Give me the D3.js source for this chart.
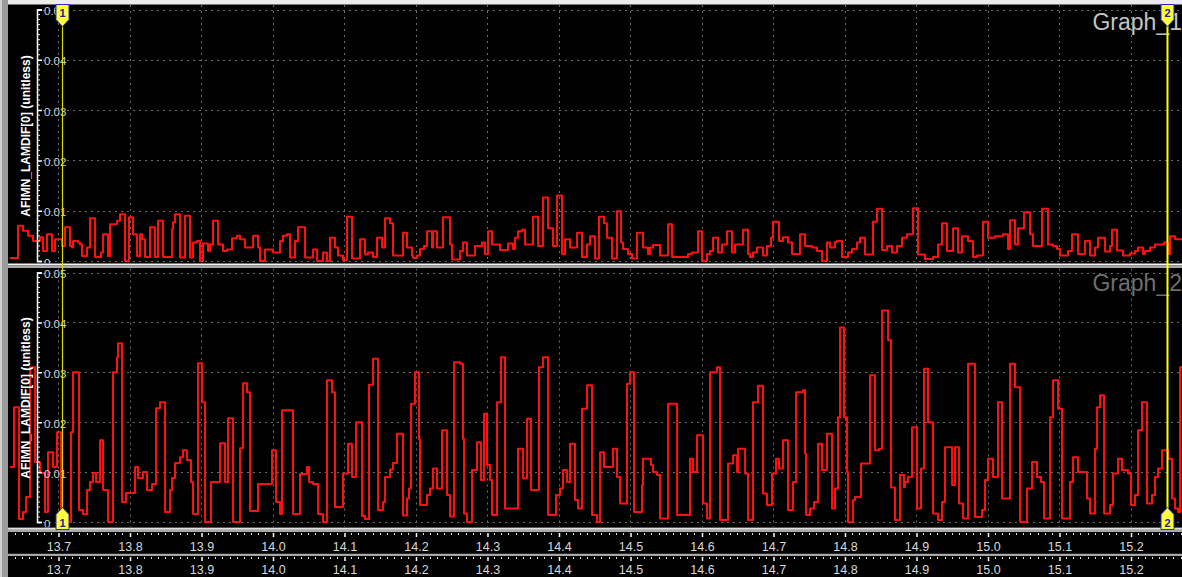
<!DOCTYPE html>
<html>
<head>
<meta charset="utf-8">
<script src="https://cdn.jsdelivr.net/npm/d3@7/dist/d3.min.js"></script>
<style>
  html, body { margin: 0; padding: 0; background: #000; overflow: hidden; }
  svg { display: block; }
  text { font-family: "Liberation Sans", Arial, sans-serif; }
</style>
</head>
<body>
<svg id="chart" width="1182" height="577"></svg>
<script>
// ---- data -------------------------------------------------------------
const timeTicks = [13.7, 13.8, 13.9, 14.0, 14.1, 14.2, 14.3, 14.4, 14.5, 14.6, 14.7, 14.8, 14.9, 15.0, 15.1, 15.2];
const yTicks = [0, 0.01, 0.02, 0.03, 0.04, 0.05];
const timeRange = [13.6329, 15.2721];
const cursorTimes = [13.7055, 15.2505];
const cursorLabels = ["1", "2"];
const graphNames = ["Graph_1", "Graph_2"];
const channelName = "AFIMN_LAMDIF[0] (unitless)";

// step samples: each value holds from its time until the next time
const series1Time = [13.6329,13.6441,13.6511,13.6581,13.6651,13.6748,13.6790,13.6846,13.6916,13.6958,13.7056,13.7098,13.7168,13.7196,13.7210,13.7280,13.7308,13.7336,13.7406,13.7448,13.7518,13.7602,13.7630,13.7699,13.7727,13.7825,13.7867,13.7937,13.7993,13.8049,13.8105,13.8147,13.8175,13.8217,13.8287,13.8357,13.8399,13.8469,13.8595,13.8609,13.8637,13.8706,13.8776,13.8846,13.8888,13.8944,13.8986,13.9028,13.9098,13.9126,13.9168,13.9238,13.9308,13.9364,13.9434,13.9504,13.9546,13.9616,13.9728,13.9797,13.9825,13.9895,14.0007,14.0105,14.0147,14.0203,14.0245,14.0315,14.0357,14.0455,14.0567,14.0623,14.0706,14.0762,14.0804,14.0874,14.0916,14.0986,14.1042,14.1112,14.1224,14.1294,14.1336,14.1406,14.1462,14.1532,14.1574,14.1644,14.1685,14.1825,14.1881,14.1951,14.1965,14.2021,14.2063,14.2119,14.2161,14.2231,14.2245,14.2301,14.2385,14.2483,14.2511,14.2623,14.2664,14.2720,14.2832,14.2930,14.2972,14.3014,14.3070,14.3182,14.3294,14.3364,14.3392,14.3434,14.3490,14.3532,14.3643,14.3713,14.3783,14.3853,14.3923,14.3979,14.4049,14.4091,14.4161,14.4259,14.4329,14.4399,14.4441,14.4511,14.4567,14.4637,14.4678,14.4748,14.4818,14.4874,14.4902,14.4972,14.5028,14.5098,14.5182,14.5252,14.5280,14.5322,14.5420,14.5532,14.5588,14.5811,14.5867,14.5951,14.6007,14.6077,14.6119,14.6161,14.6231,14.6287,14.6357,14.6427,14.6469,14.6581,14.6651,14.6679,14.6720,14.6776,14.6860,14.6916,14.6972,14.7000,14.7084,14.7140,14.7210,14.7266,14.7378,14.7448,14.7546,14.7616,14.7686,14.7755,14.7797,14.7867,14.7895,14.7965,14.8049,14.8105,14.8175,14.8217,14.8287,14.8399,14.8455,14.8525,14.8595,14.8664,14.8734,14.8804,14.8874,14.8958,14.9028,14.9126,14.9238,14.9308,14.9364,14.9434,14.9518,14.9588,14.9643,14.9727,14.9797,14.9853,14.9937,15.0007,15.0105,15.0217,15.0287,15.0315,15.0385,15.0427,15.0511,15.0594,15.0636,15.0762,15.0846,15.0916,15.0972,15.1014,15.1126,15.1182,15.1266,15.1364,15.1434,15.1504,15.1546,15.1643,15.1713,15.1741,15.1811,15.1895,15.1993,15.2063,15.2105,15.2175,15.2203,15.2273,15.2343,15.2469,15.2525,15.2553,15.2623];
const series1Value = [0.0006,0.007,0.006,0.005,0.004,0.0047,0.002,0.0053,0.002,0.0043,0.003,0.0067,0.003,0.0027,0.004,0.0037,0.0033,0.001,0.0027,0.0085,0.0008,0.0017,0.0053,0.001,0.0073,0.008,0.0093,0.0,0.0087,0.0053,0.001,0.0053,0.0043,0.0008,0.0067,0.0008,0.008,0.0008,0.0063,0.0077,0.0093,0.0007,0.009,0.0007,0.0037,0.004,0.0,0.0035,0.002,0.0033,0.008,0.0033,0.002,0.0023,0.0045,0.005,0.0043,0.0027,0.005,0.0027,0.0,0.0023,0.0017,0.004,0.005,0.0053,0.0007,0.004,0.0067,0.0007,0.0023,0.0,0.0017,0.0,0.0046,0.0027,0.0011,0.0002,0.0088,0.0005,0.0043,0.0013,0.0017,0.0008,0.0046,0.0027,0.0085,0.0075,0.0011,0.0056,0.0027,0.0011,0.0006,0.0011,0.0024,0.003,0.0059,0.0027,0.0059,0.0027,0.0087,0.0033,0.0003,0.002,0.0037,0.0011,0.003,0.0037,0.0014,0.0059,0.0033,0.0022,0.0035,0.0024,0.0046,0.0059,0.0062,0.0033,0.0088,0.003,0.0126,0.0065,0.003,0.013,0.0014,0.0043,0.0027,0.0056,0.0008,0.0033,0.0049,0.0005,0.0088,0.0075,0.0046,0.0005,0.0099,0.0037,0.0024,0.0014,0.0005,0.0056,0.0027,0.0014,0.0027,0.0032,0.0011,0.0073,0.0008,0.0014,0.0017,0.0059,0.0,0.0014,0.002,0.0046,0.0017,0.0033,0.0059,0.0017,0.0033,0.0062,0.0014,0.0008,0.0017,0.0027,0.0011,0.003,0.0046,0.0078,0.004,0.0047,0.0037,0.0014,0.0053,0.003,0.0027,0.002,0.0,0.0037,0.0027,0.0038,0.004,0.0008,0.0017,0.0024,0.0037,0.0046,0.0013,0.0078,0.0104,0.0022,0.003,0.0017,0.003,0.0046,0.0053,0.0105,0.0013,0.0004,0.0008,0.0033,0.0075,0.002,0.0065,0.0017,0.0049,0.004,0.0008,0.0011,0.0078,0.0046,0.0049,0.0053,0.0024,0.0081,0.0033,0.0065,0.0097,0.0053,0.003,0.0104,0.0033,0.003,0.0024,0.0011,0.002,0.0053,0.0014,0.004,0.0011,0.0027,0.0046,0.0019,0.003,0.0062,0.0021,0.0011,0.0015,0.002,0.0027,0.0014,0.002,0.0027,0.0033,0.0037,0.0014,0.0049,0.0043];

const series2Time = [13.6329,13.6385,13.6455,13.6511,13.6553,13.6609,13.6679,13.6748,13.6818,13.6860,13.6930,13.6986,13.7042,13.7182,13.7210,13.7294,13.7350,13.7406,13.7448,13.7490,13.7532,13.7588,13.7630,13.7699,13.7769,13.7825,13.7839,13.7895,13.7951,13.8077,13.8119,13.8189,13.8245,13.8315,13.8371,13.8427,13.8497,13.8567,13.8595,13.8637,13.8706,13.8748,13.8804,13.8860,13.8888,13.8958,13.9014,13.9056,13.9140,13.9266,13.9336,13.9378,13.9448,13.9546,13.9588,13.9644,13.9686,13.9797,13.9993,14.0049,14.0105,14.0133,14.0287,14.0385,14.0483,14.0511,14.0567,14.0637,14.0706,14.0762,14.0832,14.0874,14.0986,14.1056,14.1112,14.1168,14.1252,14.1294,14.1350,14.1406,14.1476,14.1546,14.1574,14.1644,14.1685,14.1741,14.1825,14.1881,14.1909,14.1937,14.1993,14.2049,14.2063,14.2161,14.2203,14.2245,14.2301,14.2371,14.2441,14.2483,14.2539,14.2623,14.2664,14.2678,14.2720,14.2790,14.2860,14.2916,14.2958,14.3000,14.3042,14.3070,14.3140,14.3196,14.3252,14.3434,14.3504,14.3560,14.3616,14.3727,14.3783,14.3853,14.3965,14.4021,14.4063,14.4119,14.4161,14.4231,14.4273,14.4329,14.4399,14.4469,14.4539,14.4581,14.4637,14.4762,14.4818,14.4860,14.4958,14.5000,14.5056,14.5168,14.5182,14.5294,14.5322,14.5378,14.5420,14.5532,14.5658,14.5839,14.5881,14.5937,14.6021,14.6077,14.6119,14.6217,14.6259,14.6371,14.6441,14.6497,14.6511,14.6609,14.6651,14.6720,14.6790,14.6860,14.6916,14.6986,14.7042,14.7084,14.7140,14.7210,14.7280,14.7322,14.7420,14.7448,14.7462,14.7518,14.7574,14.7630,14.7686,14.7755,14.7825,14.7867,14.7909,14.7937,14.7993,14.8035,14.8049,14.8119,14.8147,14.8231,14.8357,14.8427,14.8483,14.8525,14.8609,14.8651,14.8706,14.8776,14.8832,14.8846,14.8888,14.8944,14.9014,14.9070,14.9112,14.9168,14.9238,14.9308,14.9364,14.9406,14.9504,14.9546,14.9602,14.9658,14.9727,14.9825,14.9923,14.9965,15.0007,15.0077,15.0147,15.0203,15.0315,15.0385,15.0455,15.0553,15.0623,15.0692,15.0748,15.0790,15.0874,15.0916,15.0986,15.1042,15.1154,15.1196,15.1266,15.1392,15.1434,15.1504,15.1532,15.1574,15.1630,15.1713,15.1755,15.1825,15.1881,15.1965,15.2007,15.2063,15.2105,15.2161,15.2231,15.2301,15.2343,15.2385,15.2441,15.2525,15.2581,15.2623,15.2665,15.2693];
const series2Value = [0.011,0.023,0.0006,0.002,0.005,0.031,0.012,0.0098,0.002,0.014,0.011,0.018,0.0,0.018,0.030,0.0024,0.0016,0.0064,0.008,0.0098,0.008,0.0164,0.0064,0.0,0.030,0.033,0.0358,0.004,0.0058,0.011,0.0088,0.010,0.0064,0.0076,0.0228,0.024,0.002,0.0064,0.0088,0.0118,0.013,0.0144,0.0124,0.008,0.0016,0.0318,0.024,0.0,0.008,0.0158,0.008,0.0208,0.0,0.0148,0.0278,0.026,0.0022,0.0076,0.0144,0.004,0.0016,0.0224,0.0016,0.0096,0.011,0.008,0.0076,0.0016,0.0,0.0284,0.026,0.003,0.0097,0.0157,0.009,0.020,0.0012,0.0006,0.0275,0.0327,0.0024,0.004,0.009,0.0105,0.0118,0.0177,0.0013,0.0047,0.0067,0.0237,0.030,0.0166,0.0034,0.0054,0.0067,0.0107,0.0067,0.0184,0.0054,0.0011,0.032,0.0317,0.0167,0.0017,0.0,0.0104,0.016,0.0084,0.0217,0.0114,0.0084,0.0014,0.024,0.033,0.0027,0.0147,0.0087,0.0207,0.0064,0.031,0.033,0.0014,0.0054,0.0067,0.0104,0.008,0.0157,0.0044,0.0027,0.0227,0.0274,0.0014,0.0,0.014,0.011,0.0147,0.009,0.0037,0.0277,0.030,0.002,0.0074,0.0127,0.0114,0.010,0.0094,0.0007,0.0237,0.0014,0.0127,0.010,0.0174,0.0037,0.0007,0.030,0.031,0.0004,0.0117,0.0134,0.010,0.0147,0.0097,0.0004,0.024,0.0273,0.0057,0.0034,0.0097,0.0127,0.0107,0.0164,0.0024,0.008,0.026,0.0264,0.0137,0.0014,0.0027,0.004,0.0157,0.0104,0.0177,0.0027,0.0067,0.021,0.039,0.021,0.010,0.0,0.0044,0.005,0.0117,0.0294,0.0144,0.0147,0.0424,0.0364,0.0069,0.0004,0.0094,0.007,0.008,0.009,0.019,0.0027,0.0107,0.0307,0.020,0.0017,0.0004,0.004,0.015,0.0074,0.015,0.0037,0.0007,0.0317,0.001,0.0024,0.0084,0.0127,0.009,0.024,0.0047,0.0317,0.027,0.0,0.0067,0.012,0.009,0.008,0.0007,0.021,0.0284,0.0227,0.0007,0.008,0.013,0.010,0.0047,0.0017,0.0147,0.023,0.0254,0.0017,0.0034,0.0097,0.0127,0.0104,0.0097,0.0034,0.0054,0.0184,0.024,0.0037,0.0054,0.009,0.0107,0.0144,0.0127,0.0047,0.0027,0.002,0.031];

// ---- layout -----------------------------------------------------------
const W = 1182, H = 577;
const plotLeft = 8, plotRight = W;
const axisX = 37;
const panels = [
  { top: 5,   bottom: 263.5, y0: 261,   y1: 9.5,   time: series1Time, value: series1Value, name: graphNames[0], nameColor: "#c4c4c4", nameY: 30, titleY: 136 },
  { top: 268.5, bottom: 527.5, y0: 522, y1: 272.5, time: series2Time, value: series2Value, name: graphNames[1], nameColor: "#6e6e6e", nameY: 291, titleY: 398 }
];

const svg = d3.select("#chart");
const x = d3.scaleLinear().domain([timeTicks[0], timeTicks[timeTicks.length - 1]]).range([58, 1130.5]);

// frame background
svg.append("rect").attr("width", W).attr("height", H).attr("fill", "#000");
svg.append("rect").attr("x", 0).attr("y", 0).attr("width", W).attr("height", 4.5).attr("fill", "#ececec");
svg.append("rect").attr("x", 0).attr("y", 0).attr("width", plotLeft).attr("height", H).attr("fill", "#9c9c9c");
svg.append("rect").attr("x", 0).attr("y", 0).attr("width", 2).attr("height", H).attr("fill", "#d0d0d0");

const defs = svg.append("defs");

panels.forEach((p, i) => {
  const y = d3.scaleLinear().domain([0, 0.05]).range([p.y0, p.y1]);
  const clipId = "clip" + i;
  defs.append("clipPath").attr("id", clipId)
    .append("rect").attr("x", plotLeft).attr("y", p.top).attr("width", plotRight - plotLeft).attr("height", p.bottom - p.top);

  const g = svg.append("g").attr("clip-path", `url(#${clipId})`);
  g.append("rect").attr("x", plotLeft).attr("y", p.top).attr("width", plotRight - plotLeft).attr("height", p.bottom - p.top).attr("fill", "#000");

  // dashed grid
  g.append("g").selectAll("line.h").data(yTicks).join("line")
    .attr("x1", axisX).attr("x2", plotRight)
    .attr("y1", d => Math.round(y(d)) + 0.5).attr("y2", d => Math.round(y(d)) + 0.5)
    .attr("stroke", "#6c6c6c").attr("stroke-width", 1).attr("stroke-dasharray", "2,4");
  g.append("g").selectAll("line.v").data(timeTicks).join("line")
    .attr("x1", d => Math.round(x(d)) + 0.5).attr("x2", d => Math.round(x(d)) + 0.5)
    .attr("y1", p.top).attr("y2", p.bottom)
    .attr("stroke", "#6c6c6c").attr("stroke-width", 1).attr("stroke-dasharray", "2,4");

  // graph name
  g.append("text").attr("x", W).attr("y", p.nameY).attr("text-anchor", "end")
    .attr("font-size", 23).attr("fill", p.nameColor).text(p.name);

  // signal trace
  const pts = p.time.map((t, k) => [t, p.value[k]]);
  pts.push([timeRange[1], p.value[p.value.length - 1]]);
  const line = d3.line().x(d => x(d[0])).y(d => y(d[1])).curve(d3.curveStepAfter);
  g.append("path").attr("d", line(pts)).attr("fill", "none")
    .attr("stroke", "#ff1010").attr("stroke-width", 2).attr("stroke-linejoin", "round");

  // y axis with minor ticks
  const yAxis = d3.axisRight(y).tickValues(yTicks).tickSize(5).tickPadding(2)
    .tickFormat(d => d === 0 ? "0" : d3.format(".2f")(d));
  const ax = g.append("g").attr("transform", `translate(${axisX},0)`).call(yAxis);
  ax.select(".domain").attr("stroke", "#fff").attr("stroke-width", 1.5);
  ax.selectAll(".tick line").attr("stroke", "#fff").attr("stroke-width", 1.5);
  ax.selectAll(".tick text").attr("fill", "#d4d4d4").attr("font-size", 11.5)
    .attr("font-family", "Liberation Sans, Arial, sans-serif").attr("dy", "0.45em");
  const minor = d3.range(0, 51).map(k => k * 0.001).filter(v => Math.round(v * 1000) % 10 !== 0);
  ax.append("g").selectAll("line").data(minor).join("line")
    .attr("x1", 0).attr("x2", 3)
    .attr("y1", d => y(d)).attr("y2", d => y(d))
    .attr("stroke", "#e8e8e8").attr("stroke-width", 1);

  // channel title
  g.append("text").attr("transform", `translate(30,${p.titleY}) rotate(-90)`)
    .attr("text-anchor", "middle").attr("font-size", 12).attr("font-weight", "bold")
    .attr("fill", "#fff").text(channelName);
});

// panel separator
svg.append("rect").attr("x", plotLeft).attr("y", 263.5).attr("width", W - plotLeft).attr("height", 2).attr("fill", "#f2f2f2");
svg.append("rect").attr("x", plotLeft).attr("y", 265.5).attr("width", W - plotLeft).attr("height", 2.5).attr("fill", "#a8a8a8");

// time axes (two identical rows)
const rows = [{ top: 532, bottom: 553.5, labelY: 551 }, { top: 556, bottom: 577, labelY: 574 }];
svg.append("rect").attr("x", plotLeft).attr("y", 527.5).attr("width", W - plotLeft).attr("height", 4.5).attr("fill", "#a8a8a8");
svg.append("rect").attr("x", plotLeft).attr("y", 528).attr("width", W - plotLeft).attr("height", 1.2).attr("fill", "#e0e0e0");
svg.append("rect").attr("x", plotLeft).attr("y", 553.5).attr("width", W - plotLeft).attr("height", 2.5).attr("fill", "#a8a8a8");
const minorTimes = d3.range(136, 1528).map(k => k / 100).filter(t => t >= x.invert(plotLeft) && t <= x.invert(W) && Math.round(t * 100) % 10 !== 0);
rows.forEach(r => {
  const g = svg.append("g");
  g.append("rect").attr("x", plotLeft).attr("y", r.top).attr("width", W - plotLeft).attr("height", r.bottom - r.top).attr("fill", "#000");
  const axis = d3.axisBottom(x).tickValues(timeTicks).tickSize(4).tickPadding(0).tickFormat(d3.format(".1f"));
  const ag = g.append("g").attr("transform", `translate(0.5,${r.top + 1})`).call(axis);
  ag.select(".domain").remove();
  ag.selectAll(".tick line").attr("stroke", "#fff").attr("stroke-width", 1.5);
  ag.selectAll(".tick text").attr("fill", "#d8d8d8").attr("font-size", 12.5)
    .attr("font-family", "Liberation Sans, Arial, sans-serif")
    .attr("y", r.labelY - r.top - 1).attr("dy", 0);
  g.append("g").selectAll("line").data(minorTimes).join("line")
    .attr("x1", d => Math.round(x(d)) + 0.5).attr("x2", d => Math.round(x(d)) + 0.5)
    .attr("y1", r.top + 1).attr("y2", r.top + 3)
    .attr("stroke", "#e0e0e0").attr("stroke-width", 1);
});

// cursors with numbered flags
cursorTimes.forEach((t, i) => {
  const cx = Math.round(x(t)) + 0.5;
  const g = svg.append("g");
  g.append("line").attr("x1", cx).attr("x2", cx).attr("y1", 5).attr("y2", 527)
    .attr("stroke", i === 0 ? "#d8d800" : "#ffff00").attr("stroke-width", i === 0 ? 1.2 : 2);
  // top flag pointing down
  g.append("path").attr("d", `M${cx - 6.5},4.5 h13 v15 l-6.5,7 l-6.5,-7 z`)
    .attr("fill", "#ffff3c").attr("stroke", "#2a2ab4").attr("stroke-width", 1);
  g.append("text").attr("x", cx).attr("y", 17).attr("text-anchor", "middle")
    .attr("font-size", 11).attr("font-weight", "bold").attr("fill", "#2020a0").text(cursorLabels[i]);
  // bottom flag pointing up
  g.append("path").attr("d", `M${cx - 6.5},529.5 h13 v-15 l-6.5,-7 l-6.5,7 z`)
    .attr("fill", "#ffff3c").attr("stroke", "#2a2ab4").attr("stroke-width", 1);
  g.append("text").attr("x", cx).attr("y", 527).attr("text-anchor", "middle")
    .attr("font-size", 11).attr("font-weight", "bold").attr("fill", "#2020a0").text(cursorLabels[i]);
});
</script>
</body>
</html>
